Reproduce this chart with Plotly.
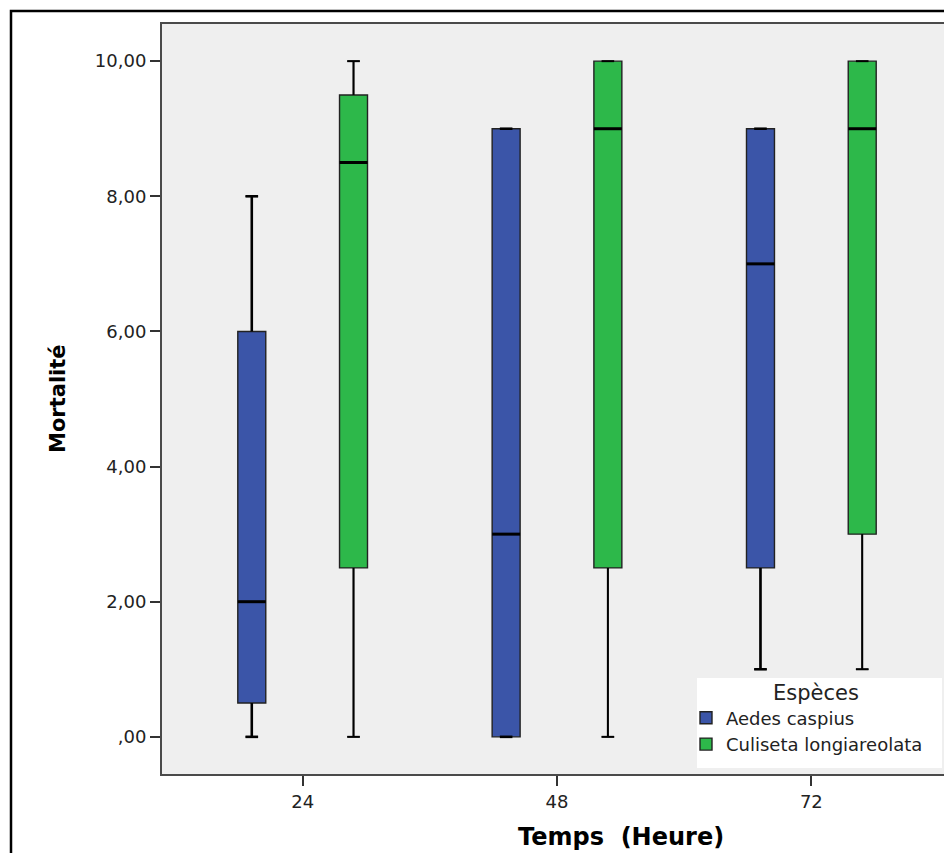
import plotly.graph_objects as go

# ---- data ----
categories = ["24", "48", "72"]
series_names = ["Aedes caspius", "Culiseta longiareolata"]
series_colors = ["#3B55A8", "#2DB84A"]
legend_title = "Espèces"

aedes_lower = [0, 0, 1]
aedes_q1 = [0.5, 0, 2.5]
aedes_median = [2, 3, 7]
aedes_q3 = [6, 9, 9]
aedes_upper = [8, 9, 9]

culiseta_lower = [0, 0, 1]
culiseta_q1 = [2.5, 2.5, 3]
culiseta_median = [8.5, 9, 9]
culiseta_q3 = [9.5, 10, 10]
culiseta_upper = [10, 10, 10]

y_tick_values = [0, 2, 4, 6, 8, 10]
y_tick_labels = [",00", "2,00", "4,00", "6,00", "8,00", "10,00"]

# ---- layout parameters (page has an 8px body margin) ----
OFF = 8
W, H = 952 - OFF, 853 - OFF
ML, MR, MT, MB = 162 - OFF, 0, 24 - OFF, 853 - 774
PW, PH = W - ML - MR, H - MT - MB
offsets = [-0.2, 0.2]
box_w = 0.11
cap_frac = 0.45
whisker_widths = [2.6, 2.0]

def px_x(p):
    return (p - OFF - ML) / PW

def px_y(p):
    return (H - MB - (p - OFF)) / PH

series = [
    (aedes_lower, aedes_q1, aedes_median, aedes_q3, aedes_upper),
    (culiseta_lower, culiseta_q1, culiseta_median, culiseta_q3, culiseta_upper),
]

fig = go.Figure()
cat_pos = list(range(len(categories)))

for s, (lo, q1, med, q3, up) in enumerate(series):
    xs = [c + offsets[s] for c in cat_pos]
    fig.add_trace(go.Box(
        x=xs, q1=q1, median=med, q3=q3, lowerfence=lo, upperfence=up,
        name=series_names[s], fillcolor=series_colors[s],
        line=dict(color="#222222", width=1.4), width=box_w,
        whiskerwidth=cap_frac, boxpoints=False, hoverinfo="skip",
    ))

# whiskers and medians drawn on top
for s, (lo, q1, med, q3, up) in enumerate(series):
    xs = [c + offsets[s] for c in cat_pos]
    wx, wy = [], []
    mx, my = [], []
    hc = box_w * cap_frac / 2
    hb = box_w / 2
    for i, x in enumerate(xs):
        wx += [x, x, None, x, x, None, x - hc, x + hc, None, x - hc, x + hc, None]
        wy += [q3[i], up[i], None, q1[i], lo[i], None, up[i], up[i], None, lo[i], lo[i], None]
        mx += [x - hb, x + hb, None]
        my += [med[i], med[i], None]
    fig.add_trace(go.Scatter(x=wx, y=wy, mode="lines", showlegend=False, hoverinfo="skip",
                             line=dict(color="black", width=whisker_widths[s])))
    fig.add_trace(go.Scatter(x=mx, y=my, mode="lines", showlegend=False, hoverinfo="skip",
                             line=dict(color="black", width=3)))

axis_font = dict(family="DejaVu Sans", size=18, color="#222222")

fig.update_layout(
    width=W, height=H,
    margin=dict(l=ML, r=MR, t=MT, b=MB, autoexpand=False),
    paper_bgcolor="white", plot_bgcolor="#EFEFEF",
    showlegend=True,
    legend=dict(
        x=px_x(686), y=px_y(731), xanchor="left", yanchor="middle",
        bgcolor="rgba(0,0,0,0)", borderwidth=0,
        font=dict(family="DejaVu Sans", size=18, color="#222222"),
        tracegroupgap=0, itemwidth=30,
    ),
    xaxis=dict(
        range=[-0.553, 2.553], tickmode="array", tickvals=cat_pos, ticktext=categories,
        showgrid=False, zeroline=False, showline=True, mirror=True,
        linecolor="#4a4a4a", linewidth=2, ticks="outside", ticklen=10, tickwidth=2,
        tickcolor="#333333", tickfont=axis_font,
    ),
    yaxis=dict(
        range=[-0.55, 10.55], tickmode="array", tickvals=y_tick_values, ticktext=y_tick_labels,
        showgrid=False, zeroline=False, showline=True, mirror=True,
        linecolor="#4a4a4a", linewidth=2, ticks="outside", ticklen=10, tickwidth=2,
        tickcolor="#333333", tickfont=axis_font,
    ),
    shapes=[
        dict(type="rect", xref="paper", yref="paper",
             x0=px_x(697), x1=px_x(942), y0=px_y(768), y1=px_y(678),
             fillcolor="white", line=dict(width=0), layer="above"),
        dict(type="rect", xref="paper", yref="paper",
             x0=px_x(11), x1=px_x(990), y0=px_y(900), y1=px_y(11),
             fillcolor="rgba(0,0,0,0)", line=dict(color="black", width=2.5), layer="above"),
    ],
    annotations=[
        dict(text=legend_title, xref="paper", yref="paper",
             x=px_x(816), y=px_y(693), showarrow=False,
             xanchor="center", yanchor="middle",
             font=dict(family="DejaVu Sans", size=21, color="#222222")),
        dict(text="<b>Mortalité</b>", xref="paper", yref="paper",
             x=px_x(58), y=0.5, textangle=-90, showarrow=False,
             xanchor="center", yanchor="middle",
             font=dict(family="DejaVu Sans", size=21, color="black")),
        dict(text="<b>Temps  (Heure)</b>", xref="paper", yref="paper",
             x=px_x(621), y=px_y(837), showarrow=False,
             xanchor="center", yanchor="middle",
             font=dict(family="DejaVu Sans", size=24, color="black")),
    ],
)

fig.write_html("out.html")
